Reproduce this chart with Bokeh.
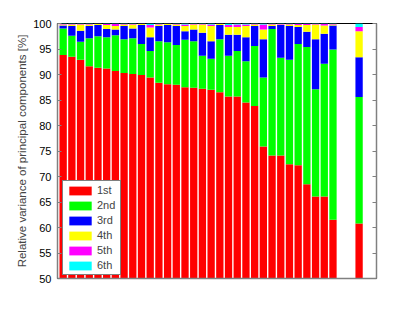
from bokeh.plotting import figure
from bokeh.models import Range1d, LinearAxis, FixedTicker, ColumnDataSource
from bokeh.embed import file_html
from bokeh.resources import INLINE

# bar positions (32 cases + one summary bar)
positions = list(range(1, 33)) + [35]

# relative variance of each principal component [%]
pc1 = [93.8, 93.5, 92.9, 91.6, 91.3, 91.2, 90.7, 90.3, 90.1, 89.9, 89.4, 88.4, 88.1, 88.0,
       87.5, 87.4, 87.2, 87.0, 86.5, 85.7, 85.7, 84.5, 83.8, 75.9, 74.1, 74.1, 72.4, 72.2,
       68.5, 66.1, 66.1, 61.5, 60.8]
pc2 = [5.2, 4.1, 3.5, 5.5, 6.2, 6.1, 7.0, 6.6, 7.0, 6.1, 5.2, 8.1, 8.2, 7.8,
       9.3, 9.1, 6.5, 6.1, 10.4, 8.0, 8.9, 8.1, 11.8, 13.5, 24.8, 19.2, 20.5, 23.8,
       26.9, 21.0, 26.0, 33.4, 24.8]
pc3 = [0.6, 1.9, 2.2, 2.4, 2.2, 1.6, 1.1, 2.6, 1.9, 3.7, 2.7, 3.0, 3.4, 3.7,
       1.7, 2.3, 4.5, 3.4, 2.8, 4.1, 3.2, 4.7, 3.9, 7.5, 0.6, 6.4, 6.6, 3.3,
       3.0, 9.8, 5.9, 4.7, 7.8]
pc4 = [0.2, 0.3, 1.2, 0.3, 0.2, 0.8, 0.7, 0.3, 0.8, 0.2, 1.9, 0.3, 0.2, 0.3,
       1.0, 1.0, 1.6, 3.0, 0.2, 1.5, 1.5, 2.2, 0.3, 1.9, 0.3, 0.1, 0.3, 0.4,
       1.3, 2.9, 1.6, 0.2, 5.1]
pc5 = [0.1, 0.1, 0.1, 0.1, 0.05, 0.2, 0.4, 0.1, 0.1, 0.05, 0.5, 0.1, 0.05, 0.1,
       0.3, 0.1, 0.1, 0.3, 0.05, 0.4, 0.5, 0.3, 0.1, 1.0, 0.1, 0.1, 0.1, 0.2,
       0.2, 0.1, 0.3, 0.1, 0.8]
pc6 = [0.1, 0.1, 0.1, 0.1, 0.05, 0.1, 0.1, 0.1, 0.1, 0.05, 0.3, 0.1, 0.05, 0.1,
       0.2, 0.1, 0.1, 0.2, 0.05, 0.3, 0.2, 0.2, 0.1, 0.2, 0.1, 0.1, 0.1, 0.1,
       0.1, 0.1, 0.1, 0.1, 0.7]

labels = ["1st", "2nd", "3rd", "4th", "5th", "6th"]
colors = ["#ff0000", "#00ff00", "#0000ff", "#ffff00", "#ff00ff", "#00ffff"]
y_ticks = [50, 55, 60, 65, 70, 75, 80, 85, 90, 95, 100]

FONT = "Liberation Sans"

src = ColumnDataSource(dict(x=positions, pc1=pc1, pc2=pc2, pc3=pc3, pc4=pc4, pc5=pc5, pc6=pc6))

p = figure(frame_width=319, frame_height=255,
           x_range=Range1d(0.35, 37.0), y_range=Range1d(50, 100),
           output_backend="svg", toolbar_location=None,
           min_border_left=57, min_border_right=32, min_border_top=23, min_border_bottom=27)

p.vbar_stack(["pc1", "pc2", "pc3", "pc4", "pc5", "pc6"], x="x", width=0.84,
             color=colors, line_color=None, source=src, legend_label=labels)

p.xgrid.visible = False
p.ygrid.visible = False
p.outline_line_color = "black"
p.background_fill_color = "white"
p.border_fill_color = "white"

# x axis: line only
p.xaxis.ticker = FixedTicker(ticks=[])
p.xaxis.axis_line_color = "#808080"
p.xaxis.axis_line_width = 1.5
p.xaxis.major_label_text_color = None

# y axis
p.yaxis.ticker = FixedTicker(ticks=y_ticks)
p.yaxis.axis_line_color = "#808080"
p.yaxis.axis_line_width = 1.5
p.yaxis.major_tick_in = 4
p.yaxis.major_tick_out = 0
p.yaxis.major_tick_line_color = "#808080"
p.yaxis.minor_tick_line_color = None
p.yaxis.major_label_text_font = FONT
p.yaxis.major_label_text_font_size = "11px"
p.yaxis.major_label_text_color = "black"
p.yaxis.major_label_standoff = 6
p.yaxis.axis_label = "Relative variance of principal components [%]"
p.yaxis.axis_label_text_font = FONT
p.yaxis.axis_label_text_font_size = "11.5px"
p.yaxis.axis_label_text_font_style = "normal"
p.yaxis.axis_label_standoff = 2

# right axis (ticks only)
ry = LinearAxis(ticker=FixedTicker(ticks=y_ticks))
ry.axis_line_color = "#808080"
ry.axis_line_width = 1.5
ry.major_tick_in = 4
ry.major_tick_out = 0
ry.major_tick_line_color = "#808080"
ry.minor_tick_line_color = None
ry.major_label_text_color = None
p.add_layout(ry, "right")

# legend
lg = p.legend[0]
lg.location = (5, 3)
lg.border_line_color = "black"
lg.border_line_width = 1
lg.background_fill_alpha = 1
lg.padding = 3
lg.margin = 0
lg.spacing = 3
lg.glyph_width = 28
lg.glyph_height = 11
lg.label_height = 11
lg.label_standoff = 3
lg.label_text_font = FONT
lg.label_text_font_size = "11px"

open("out.html", "w").write(file_html(p, INLINE))
